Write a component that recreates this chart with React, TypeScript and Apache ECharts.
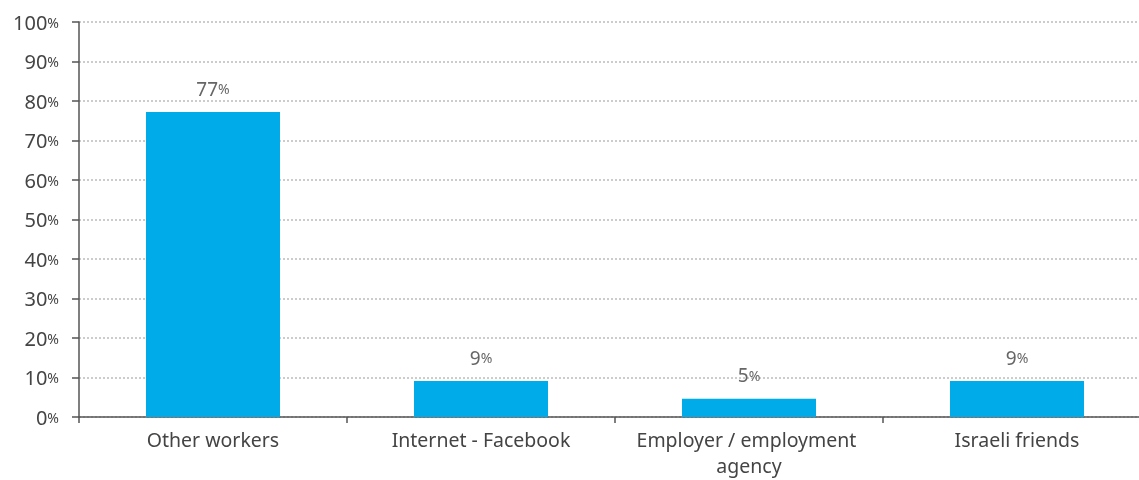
import React, { useEffect, useRef } from "react";
import * as echarts from "echarts";

const categories = ["Other workers", "Internet - Facebook", "Employer / employment agency", "Israeli friends"];
const values = [77.2, 9.1, 4.6, 9.1];
const valueLabels = ["77", "9", "5", "9"];
const yTicks = [0, 10, 20, 30, 40, 50, 60, 70, 80, 90, 100];

const FONT = "'Noto Sans', sans-serif";

export default function App() {
  const ref = useRef<HTMLDivElement>(null);
  useEffect(() => {
    if (!ref.current) return;
    const chart = echarts.init(ref.current, null, { renderer: "svg" });
    chart.setOption({
      animation: false,
      textStyle: { fontFamily: FONT },
      grid: { left: 79, right: 0, top: 22, bottom: 63, containLabel: false, outerBoundsMode: "none" },
      xAxis: {
        type: "category",
        data: categories,
        axisLine: { lineStyle: { color: "#555", width: 1.5 } },
        axisTick: { show: true, length: 6, lineStyle: { color: "#555", width: 1.5 } },
        axisLabel: {
          color: "#444",
          fontSize: 19.5,
          fontFamily: FONT,
          margin: 9,
          width: 255,
          overflow: "break",
          lineHeight: 26,
          interval: 0,
        },
      },
      yAxis: {
        type: "value",
        min: yTicks[0],
        max: yTicks[yTicks.length - 1],
        interval: 10,
        axisLine: { show: true, lineStyle: { color: "#555", width: 1.5 } },
        axisTick: { show: true, length: 7, lineStyle: { color: "#555", width: 1.5 } },
        splitLine: { lineStyle: { color: "#cccccc", width: 2, type: [2, 2] } },
        axisLabel: {
          margin: 20,
          formatter: (v: number) => `{n|${v}}{p|%}`,
          rich: {
            n: { fontSize: 20, color: "#444", fontFamily: FONT },
            p: { fontSize: 14, color: "#444", fontFamily: FONT },
          },
        },
      },
      series: [
        {
          type: "bar",
          data: values,
          barWidth: "50%",
          itemStyle: { color: "#00abea" },
          label: {
            show: true,
            position: "top",
            distance: 14,
            formatter: (p: any) => `{n|${valueLabels[p.dataIndex]}}{p|%}`,
            rich: {
              n: { fontSize: 19, color: "#666", fontFamily: FONT },
              p: { fontSize: 14, color: "#666", fontFamily: FONT },
            },
          },
        },
      ],
    });
    return () => chart.dispose();
  }, []);
  return (
    <div style={{ position: "fixed", left: 0, top: 0, width: 1139, height: 480, overflow: "hidden" }}>
      <div ref={ref} style={{ width: 1151, height: 480 }} />
    </div>
  );
}
